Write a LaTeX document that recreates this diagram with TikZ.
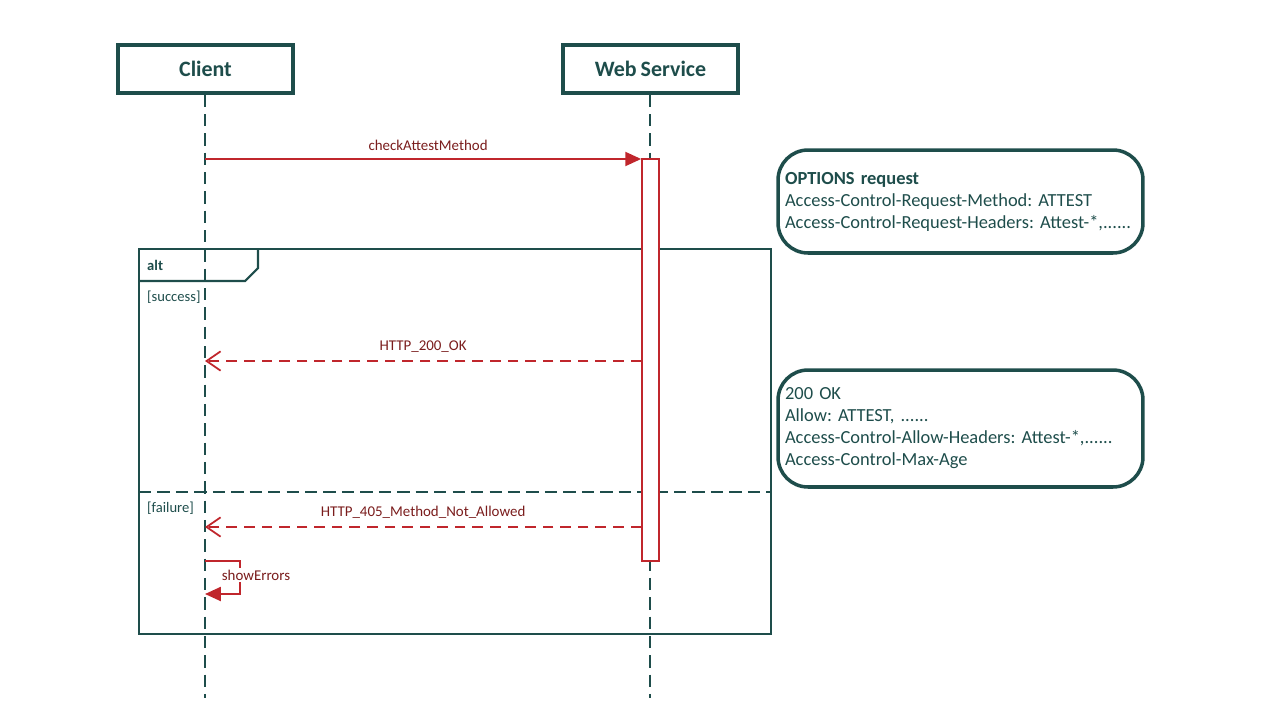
\documentclass[tikz,border=0pt]{standalone}
\usepackage{fontspec}
\setmainfont{Carlito}[WordSpace=0.8]
\usepackage{xcolor}
\definecolor{frame}{HTML}{1E4D4B}
\definecolor{msg}{HTML}{C0262C}
\definecolor{msgtext}{HTML}{7A1C1C}
\usetikzlibrary{arrows.meta, positioning, calc}
\frenchspacing

\begin{document}
\begin{tikzpicture}[x=0.02cm, y=-0.02cm,
  actor/.style={draw=frame, line width=2pt, minimum width=3.5cm, minimum height=0.96cm,
    font=\bfseries\fontsize{12.5}{14}\selectfont, text=frame},
  lifeline/.style={frame, line width=1pt, dash pattern=on 7pt off 4pt},
  call/.style={msg, line width=1pt, -{Triangle[length=9pt, width=8pt]}},
  reply/.style={msg, line width=1pt, dash pattern=on 6pt off 4pt,
    -{Straight Barb[length=8pt, width=11pt]}},
  lbl/.style={font=\fontsize{8.5}{10}\selectfont, text=msgtext},
  guard/.style={font=\fontsize{8.3}{10}\selectfont, text=frame},
  note/.style={draw=frame, line width=2pt, rounded corners=0.6cm, text=frame,
    text width=7.02cm, inner xsep=0.14cm, align=left,
    font=\fontsize{10.5}{12.5}\selectfont}]
  \useasboundingbox (0,0) rectangle (1280,720);

  % participants
  \node[actor] (client) at (205.5,69) {Client};
  \node[actor] (service) at (650.5,69) {Web Service};
  \coordinate (clientend) at (205,698);
  \coordinate (serviceend) at (650,698);
  \draw[lifeline] (client.south -| clientend) -- (clientend);
  \draw[lifeline] (service.south -| serviceend) -- (serviceend);

  % alt frame
  \draw[frame, line width=1.2pt] (139,249) rectangle (771,634);
  \draw[frame, line width=1.2pt] (139,281) -- (245,281) -- (258,268) -- (258,249);
  \node[font=\bfseries\fontsize{8.3}{10}\selectfont, text=frame, anchor=west] (alt) at (141,265) {alt};
  \node[guard, anchor=west] (success) at (141,297) {[success]};
  \node[guard, anchor=west] (failure) at (141,508) {[failure]};
  \draw[frame, line width=1.2pt, dash pattern=on 7pt off 3.5pt] (139,492) -- (771,492);

  % activation
  \node[draw=msg, fill=white, line width=1pt, minimum width=0.34cm, minimum height=8.04cm,
    inner sep=0] (act) at (650.5,360) {};

  % messages
  \coordinate (c1) at (205,159);
  \coordinate (r1) at (205,361);
  \coordinate (r2) at (205,527);
  \draw[call] (c1) -- node[lbl, above=1pt, xshift=0.1cm] {checkAttestMethod} (c1 -| act.west);
  \draw[reply] (r1 -| act.west) -- node[lbl, above=1pt] {HTTP\_200\_OK} (r1);
  \draw[reply] (r2 -| act.west) -- node[lbl, above=1pt] {HTTP\_405\_Method\_Not\_Allowed} (r2);

  % self call
  \coordinate (s1) at (205,561);
  \coordinate (s2) at (205,594);
  \draw[call] (s1) -- ++(35,0) -- ++(0,33) -- (s2);
  \node[lbl, fill=white, inner sep=1pt] (showerr) at (256,575) {showErrors};

  % notes
  \node[note, minimum height=2.06cm] (optnote) at (960.5,201.5)
    {\textbf{OPTIONS request}\\
     Access-Control-Request-Method: ATTEST\\
     Access-Control-Request-Headers: Attest-*,......};
  \node[note, minimum height=2.34cm] (oknote) at (960.5,428.5)
    {200 OK\\
     Allow: ATTEST, ......\\
     Access-Control-Allow-Headers: Attest-*,......\\
     Access-Control-Max-Age};
\end{tikzpicture}
\end{document}
